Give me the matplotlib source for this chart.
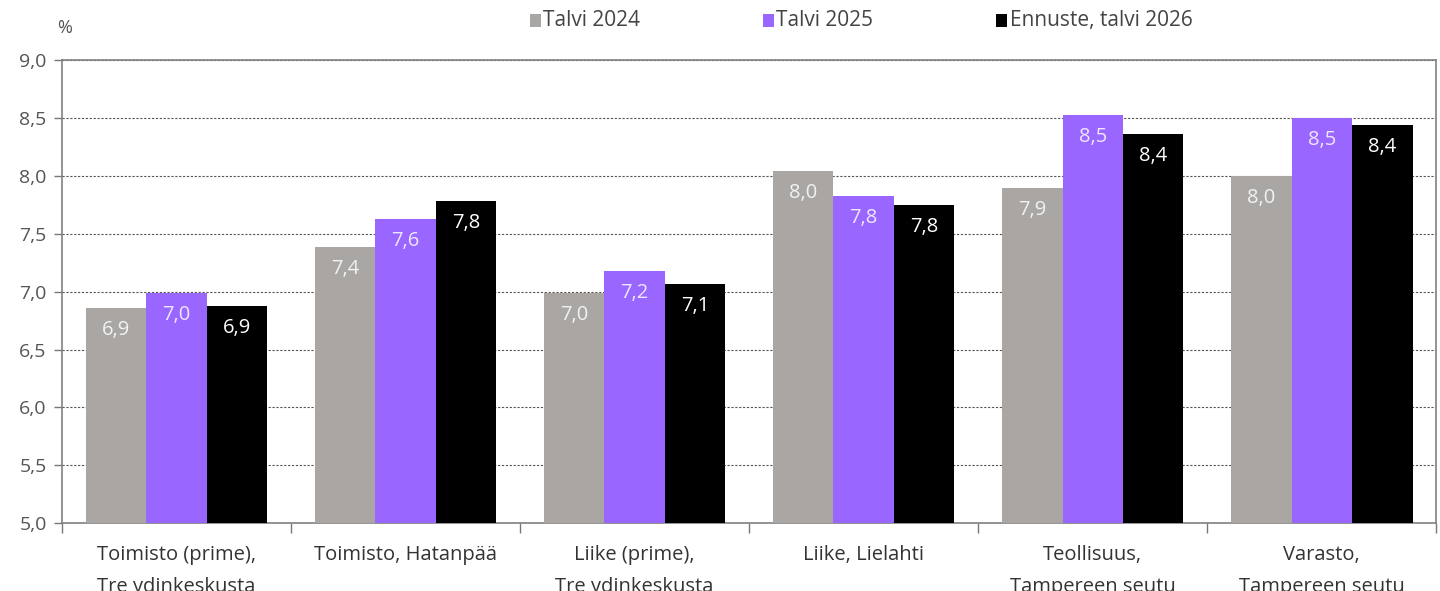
import numpy as np
import matplotlib.pyplot as plt
from matplotlib.patches import Rectangle

plt.rcParams['font.family'] = ['Open Sans', 'DejaVu Sans']

categories = [
    "Toimisto (prime),\nTre ydinkeskusta",
    "Toimisto, Hatanpää",
    "Liike (prime),\nTre ydinkeskusta",
    "Liike, Lielahti",
    "Teollisuus,\nTampereen seutu",
    "Varasto,\nTampereen seutu",
]
series_names = ["Talvi 2024", "Talvi 2025", "Ennuste, talvi 2026"]
talvi_2024 = [6.86, 7.39, 6.99, 8.04, 7.90, 8.00]
talvi_2025 = [6.99, 7.63, 7.18, 7.83, 8.53, 8.50]
ennuste_2026 = [6.88, 7.78, 7.07, 7.75, 8.36, 8.44]

colors = ["#aaa6a4", "#9966ff", "#000000"]
label_colors = ["#f2f2f2", "#eee6ff", "#ffffff"]

fig = plt.figure(figsize=(14.4, 5.91), dpi=100)
ax = fig.add_axes([0.043, 0.115, 0.9545, 0.783])

x = np.arange(len(categories))
width = 0.264
for i, (vals, col, lcol) in enumerate(zip([talvi_2024, talvi_2025, ennuste_2026], colors, label_colors)):
    pos = x + (i - 1) * width
    ax.bar(pos, [v - 5.0 for v in vals], width, bottom=5.0, color=col, zorder=3)
    for px, v in zip(pos, vals):
        ax.text(px, v - 0.19, f"{v:.1f}".replace(".", ","), ha="center", va="center",
                color=lcol, fontsize=14.5, zorder=4)

ax.set_xlim(-0.5, len(categories) - 0.5)
ax.set_ylim(5.0, 9.0)
yt = np.arange(5.0, 9.01, 0.5)
ax.set_yticks(yt)
ax.set_yticklabels([f"{v:.1f}".replace(".", ",") for v in yt], fontsize=14, color="#555555")
ax.yaxis.grid(True, linestyle=(0, (2, 1.5)), color="#555555", linewidth=0.8, zorder=1)
ax.tick_params(axis="y", length=6, color="#777777", width=1, pad=5)

ax.set_xticks(x)
ax.set_xticklabels(categories, fontsize=14.5, color="#333333", linespacing=1.8)
ax.tick_params(axis="x", length=0, pad=16)
ax.set_xticks(np.arange(-0.5, len(categories), 1.0), minor=True)
ax.tick_params(axis="x", which="minor", length=7, color="#777777", width=1)

for s in ax.spines.values():
    s.set_color("#808080")
    s.set_linewidth(1.2)

fig.text(0.040, 0.952, "%", fontsize=13, color="#555555", ha="left", va="center")

# legend entries laid out across the top
legend_x = [0.368, 0.530, 0.692]
for lx, name, col in zip(legend_x, series_names, colors):
    fig.patches.append(Rectangle((lx, 0.9535), 0.0076, 0.022, transform=fig.transFigure,
                                 facecolor=col, edgecolor="none"))
    fig.text(lx + 0.0092, 0.966, name, fontsize=15, color="#444444", ha="left", va="center")

fig.savefig("out.png", dpi=100)
